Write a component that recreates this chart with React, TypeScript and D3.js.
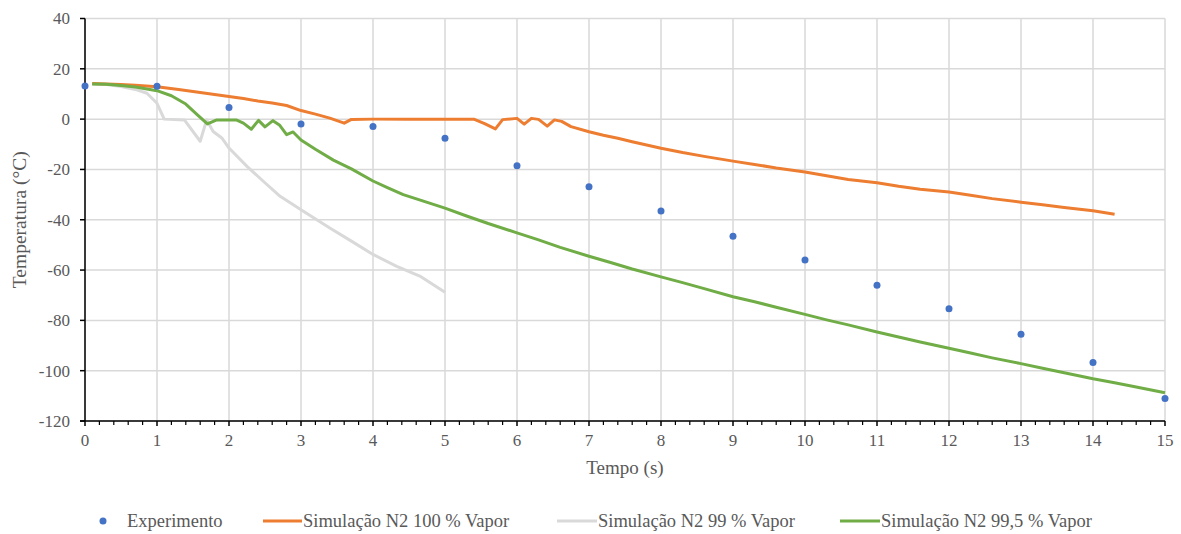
import React from "react";
import * as d3 from "d3";

const expTime = [0, 1, 2, 3, 4, 5, 6, 7, 8, 9, 10, 11, 12, 13, 14, 15];
const expTemp = [13.2, 13.1, 4.6, -1.9, -2.9, -7.6, -18.5, -26.9, -36.5, -46.6, -56.0, -66.0, -75.4, -85.5, -96.7, -111.1];

const s100Time = [0.1, 0.3, 0.5, 0.7, 1.0, 1.3, 1.6, 2.0, 2.2, 2.4, 2.6, 2.8, 3.0, 3.2, 3.4, 3.6, 3.7, 4.0, 4.5, 5.0, 5.4, 5.55, 5.7, 5.8, 6.0, 6.1, 6.2, 6.3, 6.42, 6.52, 6.62, 6.75, 7.0, 7.2, 7.4, 7.6, 7.8, 8.0, 8.3, 8.6, 9.0, 9.3, 9.6, 10.0, 10.3, 10.6, 11.0, 11.3, 11.6, 12.0, 12.3, 12.6, 13.0, 13.3, 13.6, 14.0, 14.3];
const s100Temp = [14.2, 14.0, 13.8, 13.5, 12.9, 11.8, 10.6, 9.0, 8.2, 7.2, 6.4, 5.4, 3.4, 2.0, 0.4, -1.6, -0.1, 0, 0, 0, 0, -1.8, -3.9, -0.2, 0.3, -2.0, 0.3, -0.1, -2.8, -0.3, -0.9, -3.0, -5.0, -6.4, -7.6, -9.0, -10.3, -11.6, -13.3, -14.8, -16.7, -18.0, -19.4, -21.0, -22.5, -24.0, -25.3, -26.7, -27.9, -29.0, -30.3, -31.6, -33.0, -34.0, -35.1, -36.4, -37.8];

const s99Time = [0.1, 0.3, 0.5, 0.7, 0.86, 1.0, 1.1, 1.38, 1.6, 1.69, 1.78, 1.9, 2.0, 2.25, 2.48, 2.71, 3.0, 3.4, 3.7, 4.0, 4.33, 4.65, 5.0];
const s99Temp = [14.0, 13.8, 13.0, 11.8, 10.3, 6.3, 0, -0.3, -8.8, -0.3, -4.9, -7.5, -11.5, -18.8, -24.8, -30.7, -36.0, -43.3, -48.5, -53.8, -58.5, -62.4, -68.8];

const s995Time = [0.1, 0.3, 0.5, 0.7, 1.0, 1.2, 1.4, 1.55, 1.7, 1.83, 2.1, 2.2, 2.31, 2.41, 2.5, 2.61, 2.7, 2.8, 2.89, 3.0, 3.2, 3.45, 3.7, 4.0, 4.2, 4.42, 4.7, 5.0, 5.3, 5.6, 6.0, 6.3, 6.6, 7.0, 7.3, 7.6, 8.0, 8.3, 8.6, 9.0, 9.3, 9.6, 10.0, 10.3, 10.6, 11.0, 11.3, 11.6, 12.0, 12.3, 12.6, 13.0, 13.3, 13.6, 14.0, 14.3, 14.6, 15.0];
const s995Temp = [14.0, 13.9, 13.4, 12.8, 11.3, 9.3, 6.0, 2.0, -1.9, -0.3, -0.3, -1.6, -4.0, -0.5, -3.1, -0.6, -2.3, -6.2, -5.1, -8.3, -12.0, -16.3, -19.8, -24.6, -27.2, -30.0, -32.6, -35.4, -38.5, -41.5, -45.2, -48.0, -51.0, -54.5, -57.0, -59.6, -62.7, -65.0, -67.4, -70.6, -72.6, -74.8, -77.6, -79.8, -81.8, -84.6, -86.6, -88.6, -91.1, -93.0, -94.9, -97.2, -99.0, -100.8, -103.2, -104.8, -106.5, -108.8];

const xTicks = [0, 1, 2, 3, 4, 5, 6, 7, 8, 9, 10, 11, 12, 13, 14, 15];
const yTicks = [-120, -100, -80, -60, -40, -20, 0, 20, 40];

const legendLabels = [
  "Experimento",
  "Simulação N2 100 % Vapor",
  "Simulação N2 99 % Vapor",
  "Simulação N2 99,5 % Vapor",
];

const COL_EXP = "#4472C4";
const COL_100 = "#ED7D31";
const COL_99 = "#D9D9D9";
const COL_995 = "#70AD47";
const TXT = "#595959";
const FONT = '"Liberation Serif", Tinos, "Times New Roman", "DejaVu Serif", serif';

export default function App() {
  const W = 1181;
  const H = 534;
  const x = d3.scaleLinear().domain([0, 15]).range([85, 1165]);
  const y = d3.scaleLinear().domain([-120, 40]).range([421, 18.5]);

  const line = d3
    .line<[number, number]>()
    .x((d) => x(d[0]))
    .y((d) => y(d[1]));

  const zip = (a: number[], b: number[]) => a.map((v, i) => [v, b[i]] as [number, number]);

  const minorTicks = d3.range(0, 15.001, 0.2).filter((v) => Math.abs(v - Math.round(v)) > 1e-6);

  const st = (fs: number): React.CSSProperties => ({ fontFamily: FONT, fontSize: fs, fill: TXT });

  const legendY = 521;
  const legendItems = [
    { type: "dot", color: COL_EXP, mx: 103, mx2: 0, tx: 127 },
    { type: "line", color: COL_100, mx: 263, mx2: 302, tx: 303 },
    { type: "line", color: COL_99, mx: 557, mx2: 597, tx: 598 },
    { type: "line", color: COL_995, mx: 840, mx2: 880, tx: 881 },
  ];

  return (
    <svg width={W} height={H} style={{ position: "absolute", left: 0, top: 0, background: "#fff" }}>
      <rect x={0} y={0} width={W} height={H} fill="#fff" />
      {yTicks.map((t) => (
        <line key={"gy" + t} x1={x(0)} x2={x(15)} y1={y(t)} y2={y(t)} stroke="#D9D9D9" strokeWidth={1.5} />
      ))}
      {xTicks.map((t) => (
        <line key={"gx" + t} x1={x(t)} x2={x(t)} y1={y(-120)} y2={y(40)} stroke="#D9D9D9" strokeWidth={1.5} />
      ))}

      <line x1={x(0)} x2={x(0)} y1={y(-120)} y2={y(40)} stroke="#000" strokeWidth={1.5} />
      <line x1={x(0) - 5} x2={x(15)} y1={y(-120)} y2={y(-120)} stroke="#000" strokeWidth={1.5} />
      {yTicks.map((t) => (
        <line key={"ty" + t} x1={x(0) - 5} x2={x(0)} y1={y(t)} y2={y(t)} stroke="#000" strokeWidth={1.5} />
      ))}
      {xTicks.map((t) => (
        <line key={"tx" + t} x1={x(t)} x2={x(t)} y1={y(-120)} y2={y(-120) + 5} stroke="#000" strokeWidth={1.5} />
      ))}
      {minorTicks.map((t) => (
        <line key={"mx" + t} x1={x(t)} x2={x(t)} y1={y(-120)} y2={y(-120) + 4} stroke="#000" strokeWidth={1.2} />
      ))}

      {yTicks.map((t) => (
        <text key={"ly" + t} x={x(0) - 15} y={y(t)} dy="0.35em" textAnchor="end" style={st(17)}>
          {t}
        </text>
      ))}
      {xTicks.map((t) => (
        <text key={"lx" + t} x={x(t)} y={y(-120) + 25} textAnchor="middle" style={st(17)}>
          {t}
        </text>
      ))}

      <text x={(x(0) + x(15)) / 2} y={474} textAnchor="middle" style={st(19)}>
        Tempo (s)
      </text>
      <text
        transform={`translate(26, ${(y(-120) + y(40)) / 2}) rotate(-90)`}
        textAnchor="middle"
        style={st(19.5)}
      >
        Temperatura (°C)
      </text>

      <path d={line(zip(s99Time, s99Temp)) || ""} fill="none" stroke={COL_99} strokeWidth={3} strokeLinejoin="round" />
      <path d={line(zip(s100Time, s100Temp)) || ""} fill="none" stroke={COL_100} strokeWidth={3} strokeLinejoin="round" />
      <path d={line(zip(s995Time, s995Temp)) || ""} fill="none" stroke={COL_995} strokeWidth={3} strokeLinejoin="round" />
      {expTime.map((t, i) => (
        <circle key={"e" + i} cx={x(t)} cy={y(expTemp[i])} r={3.5} fill={COL_EXP} />
      ))}

      {legendItems.map((it, i) => (
        <g key={"lg" + i}>
          {it.type === "dot" ? (
            <circle cx={it.mx} cy={legendY} r={3.5} fill={it.color} />
          ) : (
            <line x1={it.mx} x2={it.mx2} y1={legendY} y2={legendY} stroke={it.color} strokeWidth={3} />
          )}
          <text x={it.tx} y={legendY} dy="0.35em" style={st(18.5)}>
            {legendLabels[i]}
          </text>
        </g>
      ))}
    </svg>
  );
}
